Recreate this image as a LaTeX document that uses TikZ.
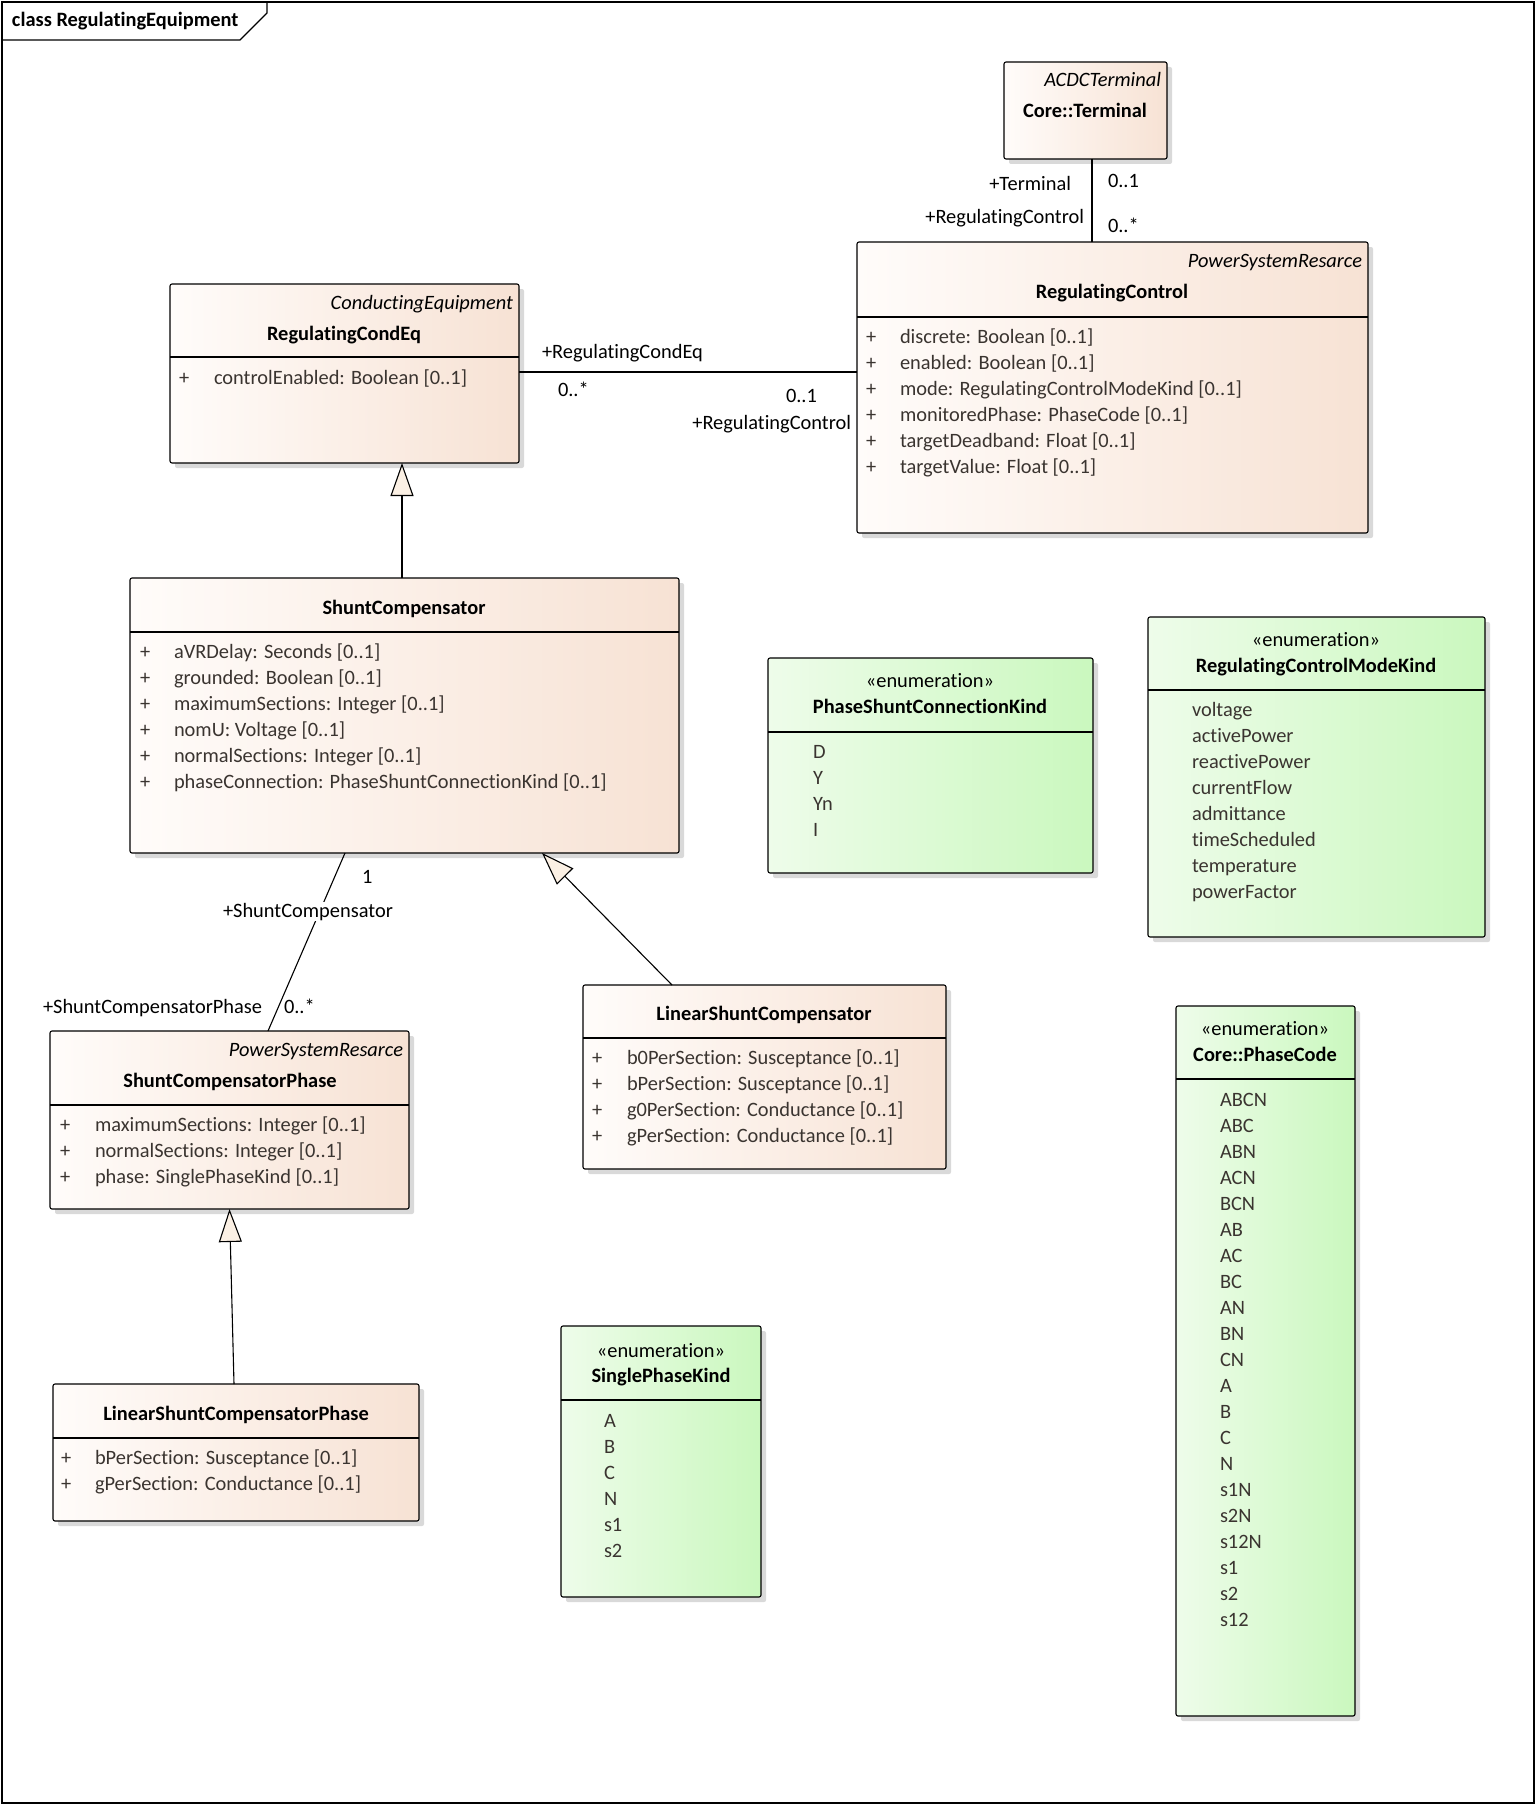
\documentclass[tikz,border=0pt]{standalone}
\usepackage{fontspec}
\setmainfont{Carlito}[Ligatures=NoCommon]
\usetikzlibrary{arrows.meta,shadows}
\definecolor{clsL}{RGB}{255,252,250}
\definecolor{clsR}{RGB}{247,226,212}
\definecolor{enmL}{RGB}{238,252,234}
\definecolor{enmR}{RGB}{202,248,190}
\definecolor{attrc}{RGB}{58,52,48}
\definecolor{tric}{RGB}{251,240,228}
\tikzset{
  cls/.style={draw,rounded corners=2pt,inner sep=0pt,outer sep=0pt,anchor=north west,
    left color=clsL,right color=clsR,
    drop shadow={shadow xshift=5pt,shadow yshift=-5pt,fill=black!15,opacity=1}},
  enm/.style={cls,left color=enmL,right color=enmR},
  txt/.style={inner sep=0pt,outer sep=0pt,font=\fontsize{20.4}{26}\selectfont},
  it/.style={txt,font=\fontsize{20.4}{26}\selectfont\itshape},
  bf/.style={txt,font=\fontsize{20.4}{26}\selectfont\bfseries},
  attr/.style={txt,text=attrc,align=left},
  gen/.style={-{Triangle[length=33pt,width=23pt,fill=tric]}},
}
\begin{document}
\begin{tikzpicture}[x=1pt,y=-1pt,line width=1.1pt]
\fill[white] (0,0) rectangle (1536,1806);
\useasboundingbox (0,0) rectangle (1536,1806);
\draw (2,2) rectangle (1534,1803);
\draw (2,40) -- (240,40) -- (267,13) -- (267,2);
\node[bf,anchor=base west] (title) at (12,27) {class RegulatingEquipment};

\node[cls,minimum width=163pt,minimum height=97pt] (term) at (1004,62) {};
\node[it,anchor=base east] (termSt) at (1161,87) {ACDCTerminal};
\node[bf,anchor=base] (termName) at (1085,118) {Core::Terminal};

\node[cls,minimum width=511pt,minimum height=291pt] (rc) at (857,242) {};
\node[it,anchor=base east] (rcSt) at (1362,267) {PowerSystemResarce};
\node[bf,anchor=base] (rcName) at (1112,298) {RegulatingControl};
\draw (rc.west |- 0,317) -- (rc.east |- 0,317);
\node[attr,anchor=base west] (rcPlus) at (866,473) {+\\+\\+\\+\\+\\+};
\node[attr,anchor=base west] (rcAttr) at (900,473) {discrete: Boolean [0..1]\\enabled: Boolean [0..1]\\mode: RegulatingControlModeKind [0..1]\\monitoredPhase: PhaseCode [0..1]\\targetDeadband: Float [0..1]\\targetValue: Float [0..1]};

\node[cls,minimum width=349pt,minimum height=179pt] (rce) at (170,284) {};
\node[it,anchor=base east] (rceSt) at (513,309) {ConductingEquipment};
\node[bf,anchor=base] (rceName) at (344,340) {RegulatingCondEq};
\draw (rce.west |- 0,357) -- (rce.east |- 0,357);
\node[attr,anchor=base west] (rcePlus) at (179,384) {+};
\node[attr,anchor=base west] (rceAttr) at (214,384) {controlEnabled: Boolean [0..1]};

\node[cls,minimum width=549pt,minimum height=275pt] (sc) at (130,578) {};
\node[bf,anchor=base] (scName) at (404,614) {ShuntCompensator};
\draw (sc.west |- 0,632) -- (sc.east |- 0,632);
\node[attr,anchor=base west] (scPlus) at (140,788) {+\\+\\+\\+\\+\\+};
\node[attr,anchor=base west] (scAttr) at (174,788) {aVRDelay: Seconds [0..1]\\grounded: Boolean [0..1]\\maximumSections: Integer [0..1]\\nomU: Voltage [0..1]\\normalSections: Integer [0..1]\\phaseConnection: PhaseShuntConnectionKind [0..1]};

\node[cls,minimum width=359pt,minimum height=178pt] (scp) at (50,1031) {};
\node[it,anchor=base east] (scpSt) at (403,1056) {PowerSystemResarce};
\node[bf,anchor=base] (scpName) at (230,1087) {ShuntCompensatorPhase};
\draw (scp.west |- 0,1105) -- (scp.east |- 0,1105);
\node[attr,anchor=base west] (scpPlus) at (60,1183) {+\\+\\+};
\node[attr,anchor=base west] (scpAttr) at (95,1183) {maximumSections: Integer [0..1]\\normalSections: Integer [0..1]\\phase: SinglePhaseKind [0..1]};

\node[cls,minimum width=363pt,minimum height=184pt] (lsc) at (583,985) {};
\node[bf,anchor=base] (lscName) at (764,1020) {LinearShuntCompensator};
\draw (lsc.west |- 0,1038) -- (lsc.east |- 0,1038);
\node[attr,anchor=base west] (lscPlus) at (592,1142) {+\\+\\+\\+};
\node[attr,anchor=base west] (lscAttr) at (627,1142) {b0PerSection: Susceptance [0..1]\\bPerSection: Susceptance [0..1]\\g0PerSection: Conductance [0..1]\\gPerSection: Conductance [0..1]};

\node[cls,minimum width=366pt,minimum height=137pt] (lscp) at (53,1384) {};
\node[bf,anchor=base] (lscpName) at (236,1420) {LinearShuntCompensatorPhase};
\draw (lscp.west |- 0,1438) -- (lscp.east |- 0,1438);
\node[attr,anchor=base west] (lscpPlus) at (61,1490) {+\\+};
\node[attr,anchor=base west] (lscpAttr) at (95,1490) {bPerSection: Susceptance [0..1]\\gPerSection: Conductance [0..1]};

\node[enm,minimum width=325pt,minimum height=215pt] (psck) at (768,658) {};
\node[txt,anchor=base] (psckSt) at (930,687) {«enumeration»};
\node[bf,anchor=base] (psckName) at (930,713) {PhaseShuntConnectionKind};
\draw (psck.west |- 0,732) -- (psck.east |- 0,732);
\node[attr,anchor=base west] (psckVal) at (813,836) {D\\Y\\Yn\\I};

\node[enm,minimum width=337pt,minimum height=320pt] (rcmk) at (1148,617) {};
\node[txt,anchor=base] (rcmkSt) at (1316,646) {«enumeration»};
\node[bf,anchor=base] (rcmkName) at (1316,672) {RegulatingControlModeKind};
\draw (rcmk.west |- 0,690) -- (rcmk.east |- 0,690);
\node[attr,anchor=base west] (rcmkVal) at (1192,898) {voltage\\activePower\\reactivePower\\currentFlow\\admittance\\timeScheduled\\temperature\\powerFactor};

\node[enm,minimum width=179pt,minimum height=710pt] (pc) at (1176,1006) {};
\node[txt,anchor=base] (pcSt) at (1265,1035) {«enumeration»};
\node[bf,anchor=base] (pcName) at (1265,1061) {Core::PhaseCode};
\draw (pc.west |- 0,1079) -- (pc.east |- 0,1079);
\node[attr,anchor=base west] (pcVal) at (1220,1626) {ABCN\\ABC\\ABN\\ACN\\BCN\\AB\\AC\\BC\\AN\\BN\\CN\\A\\B\\C\\N\\s1N\\s2N\\s12N\\s1\\s2\\s12};

\node[enm,minimum width=200pt,minimum height=271pt] (spk) at (561,1326) {};
\node[txt,anchor=base] (spkSt) at (661,1357) {«enumeration»};
\node[bf,anchor=base] (spkName) at (661,1382) {SinglePhaseKind};
\draw (spk.west |- 0,1400) -- (spk.east |- 0,1400);
\node[attr,anchor=base west] (spkVal) at (604,1557) {A\\B\\C\\N\\s1\\s2};

\coordinate (tx) at (1092,0);
\draw (tx |- term.south) -- (tx |- rc.north);
\node[txt,anchor=base east] (termRole) at (1071,190) {+Terminal};
\node[txt,anchor=base east] (rcRole1) at (1084,223) {+RegulatingControl};
\node[txt,anchor=base west] (termMult) at (1108,188) {0..1};
\node[txt,anchor=base west] (rcMult1) at (1108,233) {0..*};

\coordinate (ra) at ([yshift=-88pt]rce.north east);
\draw (ra) -- (ra -| rc.west);
\node[txt,anchor=base west] (rceRole) at (542,358) {+RegulatingCondEq};
\node[txt,anchor=base west] (rceMult) at (558,396) {0..*};
\node[txt,anchor=base west] (rcMult2) at (786,402) {0..1};
\node[txt,anchor=base east] (rcRole2) at (851,429) {+RegulatingControl};

\draw ([xshift=215pt]sc.south west) -- ([xshift=218pt]scp.north west);
\node[txt,anchor=base west] (scMult) at (362,883) {1};
\node[txt,anchor=base west,fill=white,inner sep=1pt] (scRole) at (222,917) {+ShuntCompensator};
\node[txt,anchor=base west] (scpRole) at (43,1013) {+ShuntCompensatorPhase};
\node[txt,anchor=base west] (scpMult) at (284,1013) {0..*};

\coordinate (gx) at (402,0);
\draw[gen] (gx |- sc.north) -- (gx |- rce.south);
\draw[gen] ([xshift=89pt]lsc.north west) -- ([xshift=-137pt]sc.south east);
\draw[gen] ([xshift=-2pt]lscp.north) -- (scp.south);
\end{tikzpicture}
\end{document}
